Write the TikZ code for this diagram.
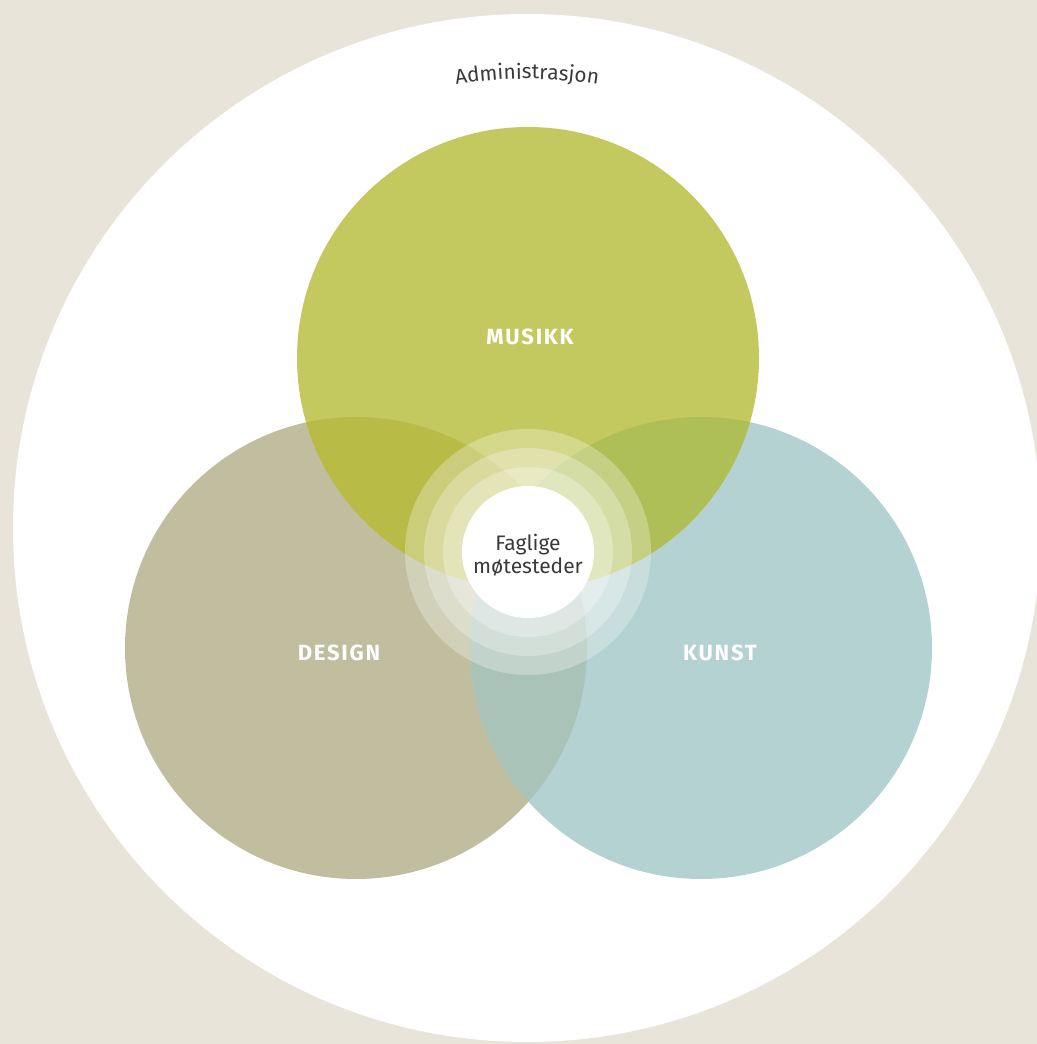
\documentclass[tikz,border=0pt]{standalone}
\usepackage{fontspec}
\setmainfont{Fira Sans}
\usetikzlibrary{decorations.text}
\definecolor{bgbeige}{HTML}{E8E4D9}
\definecolor{musikkgreen}{HTML}{C4C95F}
\definecolor{designgrey}{HTML}{C0BE9E}
\definecolor{kunstblue}{HTML}{B4D2D1}
\definecolor{mdoverlap}{HTML}{B9BB47}
\definecolor{mkoverlap}{HTML}{AFBF57}
\definecolor{dkoverlap}{HTML}{AAC3B8}
\definecolor{alloverlap}{HTML}{AEBB78}
\definecolor{textgrey}{HTML}{3A3A3A}
\newcommand{\adminfont}{\fontsize{10.4}{12}\selectfont}
\tikzset{
	fagtekst/.style={text=white,
		font=\fontsize{11}{13}\selectfont\bfseries\addfontfeature{LetterSpace=8}},
	ring/.style={fill=white, fill opacity=0.28},
}
\begin{document}
\begin{tikzpicture}[x=0.5pt, y=0.5pt]
	\useasboundingbox (0,0) rectangle (1037,1044);
	\clip (0,0) rectangle (1037,1044);
	\fill[bgbeige] (0,0) rectangle (1037,1044);
	\coordinate (adm) at (527,516);
	\fill[white] (adm) circle (514);
	% the three subjects
	\coordinate (mus) at (528,686);
	\coordinate (des) at (356,396);
	\coordinate (kun) at (701,396);
	\fill[designgrey] (des) circle (231);
	\fill[kunstblue] (kun) circle (231);
	\fill[musikkgreen] (mus) circle (231);
	\begin{scope}
		\clip (des) circle (231);
		\fill[dkoverlap] (kun) circle (231);
	\end{scope}
	\begin{scope}
		\clip (mus) circle (231);
		\fill[mdoverlap] (des) circle (231);
		\fill[mkoverlap] (kun) circle (231);
		\clip (des) circle (231);
		\fill[alloverlap] (kun) circle (231);
	\end{scope}
	% meeting place
	\coordinate (mid) at (528,492);
	\foreach \r in {123,104,85}
		{
			\fill[ring] (mid) circle (\r);
		}
	\fill[white] (mid) circle (66);
	\node[fagtekst] (musikk) at (530,707) {MUSIKK};
	\node[fagtekst] (design) at (339,391) {DESIGN};
	\node[fagtekst] (kunst) at (720,391) {KUNST};
	\node[text=textgrey, align=center, font=\fontsize{10.5}{11.5}\selectfont]
		(moter) at (528,489) {Faglige\\møtesteder};
	\path[decorate, decoration={text along path, text align=center,
		text color=textgrey, text={|\adminfont|Administrasjon}}]
		(adm) ++(110:449) arc[start angle=110, end angle=70, radius=449];
\end{tikzpicture}
\end{document}
